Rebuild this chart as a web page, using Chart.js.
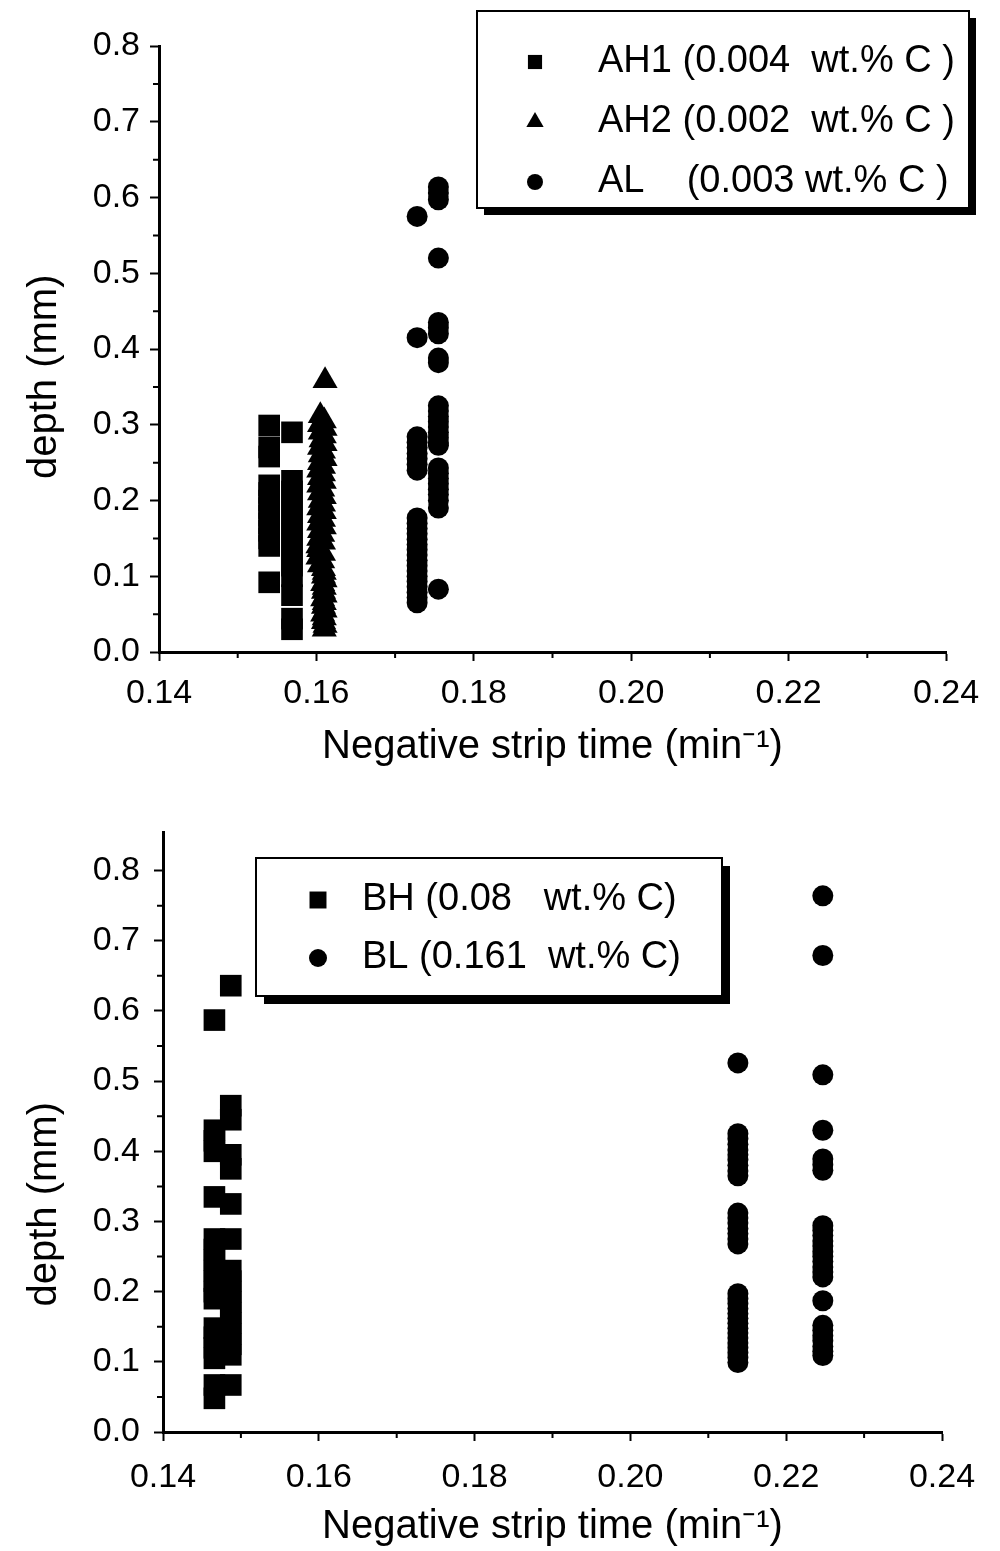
<!DOCTYPE html>
<html lang="en">

<head>
    <meta charset="UTF-8">
    <title>Depth vs negative strip time</title>
    <script src="https://cdn.jsdelivr.net/npm/chart.js"></script>
    <style>
        body {
            margin: 0;
            background: #fff;
        }

        canvas {
            display: block;
        }
    </style>
</head>

<body>
    <canvas id="chart-a" width="1000" height="775"></canvas>
    <canvas id="chart-b" width="1000" height="776"></canvas>

    <script>
        // ---- data ----
        const xTickLabels = ['0.14', '0.16', '0.18', '0.20', '0.22', '0.24'];
        const yTickLabels = ['0.0', '0.1', '0.2', '0.3', '0.4', '0.5', '0.6', '0.7', '0.8'];

        const topNames = ['AH1 (0.004  wt.% C )', 'AH2 (0.002  wt.% C )', 'AL    (0.003 wt.% C )'];
        const bottomNames = ['BH (0.08   wt.% C)', 'BL (0.161  wt.% C)'];

        const ah1Time = [0.154, 0.154, 0.154, 0.154, 0.154, 0.154, 0.154, 0.154, 0.154, 0.154, 0.154, 0.154, 0.154,
            0.1569, 0.1569, 0.1569, 0.1569, 0.1569, 0.1569, 0.1569, 0.1569, 0.1569, 0.1569, 0.1569, 0.1569, 0.1569, 0.1569];
        const ah1Depth = [0.299, 0.27, 0.258, 0.22, 0.21, 0.20, 0.19, 0.18, 0.17, 0.16, 0.15, 0.14, 0.092,
            0.29, 0.226, 0.212, 0.198, 0.184, 0.17, 0.156, 0.142, 0.128, 0.114, 0.10, 0.075, 0.044, 0.03];

        const ah2Time = [0.1611,
            0.1605, 0.1610, 0.1604, 0.1611, 0.1605, 0.1610, 0.1606, 0.1611, 0.1604, 0.1609, 0.1605, 0.1611, 0.1604, 0.1609,
            0.1603, 0.1609, 0.1604, 0.1610, 0.1603, 0.1608, 0.1604, 0.1610, 0.1605, 0.1609,
            0.1603, 0.1610, 0.1604, 0.1609, 0.1603, 0.1610, 0.1604, 0.1608, 0.1603, 0.1609,
            0.1602, 0.1603, 0.1609, 0.1602, 0.1608, 0.1604, 0.1609,
            0.1610, 0.1609, 0.1611, 0.1608, 0.1610, 0.1609, 0.1611, 0.1608,
            0.1610, 0.1609, 0.1611, 0.1608, 0.1610, 0.1609, 0.1611, 0.1610];
        const ah2Depth = [0.358,
            0.312, 0.305, 0.30, 0.295, 0.29, 0.285, 0.28, 0.275, 0.27, 0.265, 0.26, 0.255, 0.25, 0.245,
            0.24, 0.235, 0.23, 0.225, 0.22, 0.215, 0.21, 0.205, 0.20, 0.195,
            0.19, 0.185, 0.18, 0.175, 0.17, 0.165, 0.16, 0.155, 0.15, 0.145,
            0.14, 0.135, 0.13, 0.125, 0.12, 0.115, 0.11,
            0.105, 0.10, 0.095, 0.09, 0.085, 0.08, 0.075, 0.07,
            0.065, 0.06, 0.055, 0.05, 0.045, 0.04, 0.035, 0.03];

        const alTime = [0.1728, 0.1728,
            0.1728, 0.1728, 0.1728, 0.1728, 0.1728, 0.1728, 0.1728,
            0.1728, 0.1728, 0.1728, 0.1728, 0.1728, 0.1728, 0.1728, 0.1728, 0.1728,
            0.1728, 0.1728, 0.1728, 0.1728, 0.1728, 0.1728, 0.1728, 0.1728,
            0.1755, 0.1755, 0.1755, 0.1755, 0.1755, 0.1755, 0.1755, 0.1755, 0.1755,
            0.1755, 0.1755, 0.1755, 0.1755, 0.1755, 0.1755, 0.1755, 0.1755, 0.1755,
            0.1755, 0.1755, 0.1755, 0.1755, 0.1755, 0.1755, 0.1755, 0.1755, 0.1755];
        const alDepth = [0.575, 0.415,
            0.284, 0.277, 0.27, 0.262, 0.255, 0.248, 0.24,
            0.177, 0.17, 0.163, 0.156, 0.149, 0.142, 0.135, 0.128, 0.121,
            0.114, 0.107, 0.10, 0.093, 0.086, 0.079, 0.072, 0.065,
            0.614, 0.606, 0.597, 0.52, 0.435, 0.428, 0.42, 0.388, 0.382,
            0.325, 0.318, 0.311, 0.304, 0.297, 0.29, 0.283, 0.276, 0.273,
            0.243, 0.236, 0.229, 0.222, 0.215, 0.208, 0.20, 0.19, 0.083];

        const bhTime = [0.1466, 0.1466, 0.1466, 0.1466, 0.1466, 0.1466, 0.1466, 0.1466, 0.1466, 0.1466, 0.1466, 0.1466, 0.1466, 0.1466, 0.1466, 0.1466, 0.1466, 0.1466,
            0.1487, 0.1487, 0.1487, 0.1487, 0.1487, 0.1487, 0.1487, 0.1487, 0.1487, 0.1487, 0.1487, 0.1487, 0.1487, 0.1487, 0.1487, 0.1487, 0.1487];
        const bhDepth = [0.587, 0.43, 0.415, 0.40, 0.335, 0.275, 0.26, 0.245, 0.23, 0.215, 0.20, 0.19, 0.148, 0.135, 0.12, 0.105, 0.067, 0.048,
            0.636, 0.465, 0.445, 0.395, 0.375, 0.325, 0.275, 0.23, 0.215, 0.20, 0.185, 0.17, 0.155, 0.14, 0.125, 0.11, 0.067];

        const blTime = [0.2138, 0.2138, 0.2138, 0.2138, 0.2138, 0.2138, 0.2138, 0.2138, 0.2138, 0.2138,
            0.2138, 0.2138, 0.2138, 0.2138, 0.2138, 0.2138, 0.2138,
            0.2138, 0.2138, 0.2138, 0.2138, 0.2138, 0.2138, 0.2138, 0.2138, 0.2138, 0.2138, 0.2138, 0.2138, 0.2138, 0.2138, 0.2138,
            0.2247, 0.2247, 0.2247, 0.2247, 0.2247, 0.2247, 0.2247,
            0.2247, 0.2247, 0.2247, 0.2247, 0.2247, 0.2247, 0.2247, 0.2247, 0.2247, 0.2247, 0.2247,
            0.2247, 0.2247, 0.2247, 0.2247, 0.2247, 0.2247, 0.2247, 0.2247];
        const blDepth = [0.526, 0.425, 0.418, 0.41, 0.402, 0.395, 0.388, 0.38, 0.372, 0.365,
            0.312, 0.305, 0.298, 0.29, 0.283, 0.275, 0.268,
            0.197, 0.19, 0.183, 0.176, 0.169, 0.162, 0.155, 0.148, 0.141, 0.134, 0.127, 0.12, 0.113, 0.106, 0.099,
            0.764, 0.679, 0.509, 0.43, 0.389, 0.381, 0.373,
            0.294, 0.287, 0.28, 0.272, 0.265, 0.257, 0.25, 0.243, 0.235, 0.228, 0.221,
            0.187, 0.152, 0.145, 0.137, 0.13, 0.122, 0.115, 0.109];

        // ---- helpers ----
        Chart.defaults.font.family = "'Liberation Sans', Arial, sans-serif";
        Chart.defaults.color = '#000';

        function points(xs, ys) {
            return xs.map((x, i) => ({ x: x, y: ys[i] }));
        }

        function series(label, xs, ys, style, radius) {
            return {
                label: label,
                data: points(xs, ys),
                pointStyle: style,
                pointRadius: radius,
                pointHoverRadius: radius,
                pointBackgroundColor: '#000',
                pointBorderColor: '#000',
                pointBorderWidth: 0,
                showLine: false
            };
        }

        // framed legend with a drop shadow, like the original figure
        const legendBox = {
            id: 'legendBox',
            afterDraw(chart, args, o) {
                const ctx = chart.ctx;
                ctx.save();
                ctx.fillStyle = '#000';
                ctx.fillRect(o.left + o.shadow, o.top + o.shadow, o.width, o.height);
                ctx.fillStyle = '#fff';
                ctx.fillRect(o.left, o.top, o.width, o.height);
                ctx.lineWidth = 2;
                ctx.strokeStyle = '#000';
                ctx.strokeRect(o.left, o.top, o.width, o.height);
                ctx.font = o.font;
                ctx.textBaseline = 'middle';
                chart.data.datasets.forEach((ds, i) => {
                    const y = o.top + o.firstRow + i * o.rowGap;
                    ctx.fillStyle = '#000';
                    Chart.helpers.drawPoint(ctx, {
                        pointStyle: ds.pointStyle, radius: o.markers[i], rotation: 0, borderWidth: 0
                    }, o.left + o.markerX, y);
                    ctx.fillText(ds.label, o.left + o.textX, y);
                });
                ctx.restore();
            }
        };

        // short minor ticks half way between the labelled ones
        const minorTicks = {
            id: 'minorTicks',
            afterDraw(chart) {
                const ctx = chart.ctx;
                const xs = chart.scales.x, ys = chart.scales.y;
                ctx.save();
                ctx.strokeStyle = '#000';
                ctx.lineWidth = 2;
                ctx.beginPath();
                for (let v = 0.15; v < 0.24; v += 0.02) {
                    const px = xs.getPixelForValue(v);
                    ctx.moveTo(px, ys.bottom);
                    ctx.lineTo(px, ys.bottom + 6);
                }
                for (let v = 0.05; v < 0.8; v += 0.1) {
                    const py = ys.getPixelForValue(v);
                    ctx.moveTo(xs.left, py);
                    ctx.lineTo(xs.left - 6, py);
                }
                ctx.stroke();
                ctx.restore();
            }
        };

        function makeChart(id, datasets, g) {
            return new Chart(document.getElementById(id), {
                type: 'scatter',
                data: { datasets: datasets },
                plugins: [legendBox, minorTicks],
                options: {
                    responsive: false,
                    animation: false,
                    devicePixelRatio: 1,
                    layout: { padding: { left: 0, right: g.padRight, top: g.padTop, bottom: 0 } },
                    plugins: {
                        legend: { display: false },
                        tooltip: { enabled: false },
                        legendBox: g.legend
                    },
                    scales: {
                        x: {
                            type: 'linear',
                            min: 0.14,
                            max: 0.24,
                            afterFit: (s) => { s.height = g.xAxisHeight; },
                            border: { display: true, color: '#000', width: 3 },
                            grid: { drawOnChartArea: false, drawTicks: true, tickLength: 9, tickColor: '#000', tickWidth: 2 },
                            ticks: {
                                stepSize: 0.02,
                                padding: g.xTickPad,
                                font: { size: 34 },
                                callback: (v) => xTickLabels[Math.round((v - 0.14) / 0.02)]
                            },
                            title: {
                                display: true,
                                text: 'Negative strip time (min\u207B\u00B9)',
                                font: { size: 40 },
                                padding: { top: 0, bottom: g.xTitlePad }
                            }
                        },
                        y: {
                            type: 'linear',
                            min: 0,
                            max: g.yMax,
                            afterFit: (s) => { s.width = g.yAxisWidth; },
                            border: { display: true, color: '#000', width: 3 },
                            grid: { drawOnChartArea: false, drawTicks: true, tickLength: 9, tickColor: '#000', tickWidth: 2 },
                            ticks: {
                                stepSize: 0.1,
                                includeBounds: false,
                                padding: g.yTickPad,
                                font: { size: 34 },
                                callback: (v) => yTickLabels[Math.round(v / 0.1)]
                            },
                            title: {
                                display: true,
                                text: 'depth (mm)' + ' '.repeat(g.ySpaces),
                                font: { size: 40 },
                                padding: { top: 21, bottom: 0 }
                            }
                        }
                    }
                }
            });
        }

        makeChart('chart-a', [
            series(topNames[0], ah1Time, ah1Depth, 'rect', 15.3),
            series(topNames[1], ah2Time, ah2Depth, 'triangle', 14.5),
            series(topNames[2], alTime, alDepth, 'circle', 10.5)
        ], {
            padRight: 54, padTop: 46, xAxisHeight: 123, yAxisWidth: 159, yMax: 0.8,
            xTickPad: 12, yTickPad: 10, xTitlePad: 4, ySpaces: 5,
            legend: {
                left: 477, top: 11, width: 492, height: 197, shadow: 7,
                firstRow: 51, rowGap: 60, markerX: 58, textX: 121,
                markers: [10, 10, 8], font: "38px 'Liberation Sans', Arial, sans-serif"
            }
        });

        makeChart('chart-b', [
            series(bottomNames[0], bhTime, bhDepth, 'rect', 15.3),
            series(bottomNames[1], blTime, blDepth, 'circle', 10.5)
        ], {
            padRight: 58, padTop: 57, xAxisHeight: 119, yAxisWidth: 163, yMax: 0.855,
            xTickPad: 16, yTickPad: 14, xTitlePad: 0, ySpaces: 13,
            legend: {
                left: 256, top: 83, width: 466, height: 138, shadow: 8,
                firstRow: 42, rowGap: 58, markerX: 62, textX: 106,
                markers: [12, 9], font: "38px 'Liberation Sans', Arial, sans-serif"
            }
        });
    </script>
</body>

</html>
